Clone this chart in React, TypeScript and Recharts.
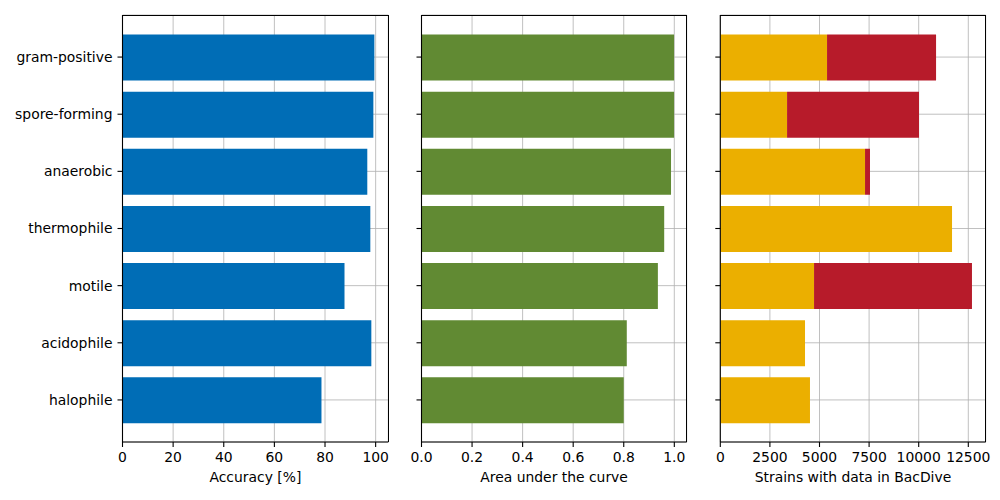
import React from 'react';
import { BarChart, Bar, XAxis, YAxis, CartesianGrid } from 'recharts';

const categories = ['gram-positive', 'spore-forming', 'anaerobic', 'thermophile', 'motile', 'acidophile', 'halophile'];
const accuracy = [99.5, 99.1, 96.7, 97.9, 87.7, 98.3, 78.6];
const auc = [0.999, 0.999, 0.987, 0.96, 0.935, 0.812, 0.8];
const strainsPart1 = [5380, 3365, 7295, 11680, 4725, 4270, 4520];
const strainsPart2 = [5495, 6650, 250, 0, 7960, 0, 0];

const accuracyTicks = [0, 20, 40, 60, 80, 100];
const aucTicks = [0, 0.2, 0.4, 0.6, 0.8, 1.0];
const strainTicks = [0, 2500, 5000, 7500, 10000, 12500];

const data = categories.map((c, i) => ({
  name: c,
  accuracy: accuracy[i],
  auc: auc[i],
  s1: strainsPart1[i],
  s2: strainsPart2[i],
}));

const FONT = 'DejaVu Sans, sans-serif';
const tickStyle = { fontSize: 13.9, fill: '#000', fontFamily: FONT };
const PLOT_TOP = 15;
const PLOT_BOTTOM = 442;

interface PanelProps {
  left: number;
  width: number;
  yAxisWidth: number;
  marginRight: number;
  showLabels: boolean;
  domain: [number, number];
  ticks: number[];
  xLabel: string;
  fmt: (v: number) => string;
  children: React.ReactNode;
}

function Panel(p: PanelProps) {
  const plotLeft = p.left + p.yAxisWidth;
  const plotRight = p.left + p.width - p.marginRight;
  return (
    <>
      <div style={{ position: 'absolute', left: p.left, top: 0 }}>
        <BarChart
          width={p.width}
          height={500}
          data={data}
          layout="vertical"
          margin={{ top: PLOT_TOP, right: p.marginRight, bottom: 0, left: 0 }}
          barSize={46}
        >
          <CartesianGrid stroke="#b0b0b0" strokeWidth={0.8} />
          <XAxis
            type="number"
            domain={p.domain}
            ticks={p.ticks}
            allowDataOverflow
            height={58}
            tickSize={5}
            tickMargin={5}
            tick={tickStyle}
            tickFormatter={p.fmt}
            axisLine={{ stroke: '#000', strokeWidth: 1.1 }}
            tickLine={{ stroke: '#000', strokeWidth: 1.1 }}
            interval={0}
            label={{ value: p.xLabel, position: 'insideBottom', offset: 18, style: { fontSize: 13.9, fill: '#000', fontFamily: FONT } }}
          />
          <YAxis
            type="category"
            dataKey="name"
            width={p.yAxisWidth}
            padding={{ top: 13.5, bottom: 13.5 }}
            tickSize={5}
            tickMargin={5}
            tick={tickStyle}
            interval={0}
            tickFormatter={p.showLabels ? undefined : () => ''}
            axisLine={{ stroke: '#000', strokeWidth: 1.1 }}
            tickLine={{ stroke: '#000', strokeWidth: 1.1 }}
          />
          {p.children}
        </BarChart>
      </div>
      <div
        style={{
          position: 'absolute',
          left: plotLeft,
          top: PLOT_TOP - 0.5,
          width: plotRight - plotLeft + 0.5,
          height: PLOT_BOTTOM - PLOT_TOP,
          borderTop: '1.1px solid #000',
          borderRight: '1.1px solid #000',
          boxSizing: 'border-box',
          pointerEvents: 'none',
        }}
      />
    </>
  );
}

export default function App() {
  return (
    <div style={{ position: 'absolute', left: 0, top: 0, width: 1000, height: 500, background: '#fff', fontFamily: FONT }}>
      <Panel
        left={0}
        width={400}
        yAxisWidth={122.5}
        marginRight={11.7}
        showLabels
        domain={[0, 105]}
        ticks={accuracyTicks}
        xLabel="Accuracy [%]"
        fmt={(v) => String(v)}
      >
        <Bar dataKey="accuracy" fill="#006db6" isAnimationActive={false} />
      </Panel>
      <Panel
        left={400}
        width={300}
        yAxisWidth={21.5}
        marginRight={13.3}
        showLabels={false}
        domain={[0, 1.049]}
        ticks={aucTicks}
        xLabel="Area under the curve"
        fmt={(v) => v.toFixed(1)}
      >
        <Bar dataKey="auc" fill="#618a33" isAnimationActive={false} />
      </Panel>
      <Panel
        left={700}
        width={300}
        yAxisWidth={20.3}
        marginRight={14.3}
        showLabels={false}
        domain={[0, 13377]}
        ticks={strainTicks}
        xLabel="Strains with data in BacDive"
        fmt={(v) => String(v)}
      >
        <Bar dataKey="s1" stackId="a" fill="#ebaf00" isAnimationActive={false} />
        <Bar dataKey="s2" stackId="a" fill="#b71b2a" isAnimationActive={false} />
      </Panel>
    </div>
  );
}
